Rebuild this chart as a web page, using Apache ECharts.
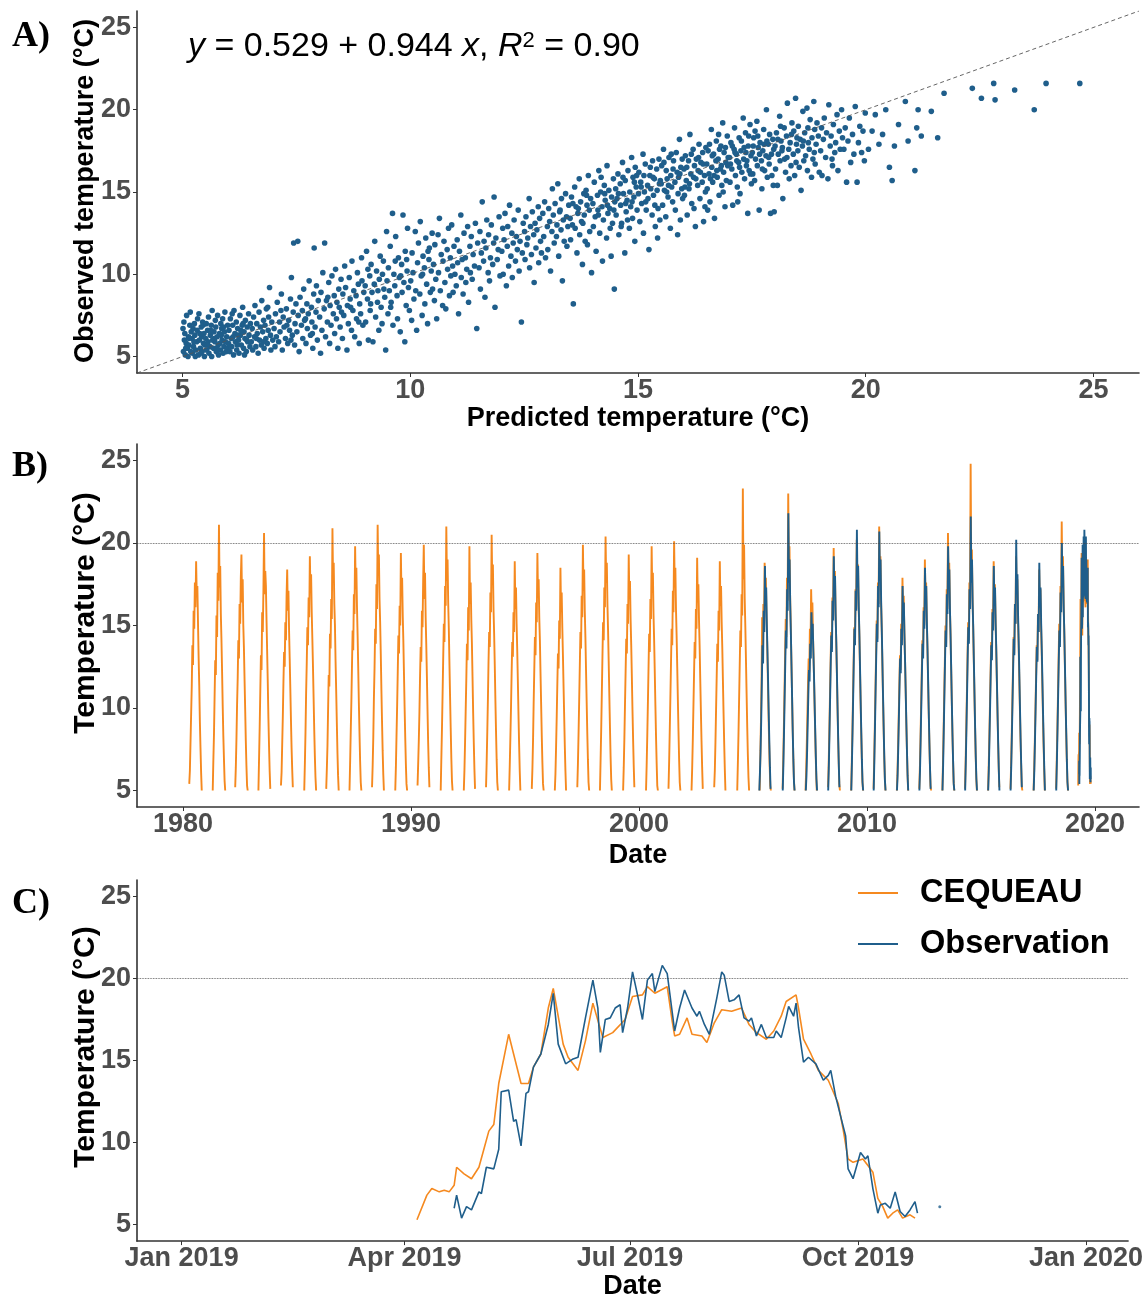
<!DOCTYPE html>
<html><head><meta charset="utf-8">
<script src="https://cdn.jsdelivr.net/npm/echarts@6/dist/echarts.min.js"></script>
<style>html,body{margin:0;padding:0;background:#fff}#chart{width:1146px;height:1301px}</style>
</head><body><div id="chart"></div>
<script>
// ---------- DATA ----------
const tempTicks = [5, 10, 15, 20, 25];
const yearTicks = [1980, 1990, 2000, 2010, 2020];
const monthTickDates = ['2019-01-01', '2019-04-01', '2019-07-01', '2019-10-01', '2020-01-01'];
const monthTickLabels = ['Jan 2019', 'Apr 2019', 'Jul 2019', 'Oct 2019', 'Jan 2020'];
const seriesNames = ['CEQUEAU', 'Observation'];
const equationText = '{i|y} = 0.529 + 0.944 {i|x}, {i|R}{s|2} = 0.90';
const threshold = 20;
const identityLine = [[4, 4], [26, 26]];

// Panel A: [predicted, observed]
const scatterA = [
[5.02,5.3],[5.04,6.0],[5.01,6.7],[5.06,5.1],[5.03,7.1],[5.08,5.8],[5.05,6.4],[5.11,5.5],[5.09,7.5],[5.13,6.2],[5.12,5.0],[5.16,6.9],[5.14,5.7],[5.19,6.5],[5.17,7.7],[5.22,5.2],[5.21,6.1],[5.24,5.6],[5.26,7.0],[5.23,6.7],[5.29,5.4],[5.27,6.3],[5.31,5.9],[5.33,7.3],[5.35,5.1],[5.32,6.6],[5.37,6.0],[5.39,5.5],[5.36,7.6],[5.41,6.8],[5.43,5.3],[5.42,6.2],[5.46,5.8],[5.44,7.1],[5.48,5.0],[5.47,6.4],[5.49,5.7],[5.45,6.9],[5.28,5.0],[5.18,5.3],[5.07,5.5],[5.38,6.4],[5.14,6.1],[5.25,5.9],[5.40,5.2],
[5.51,6.1],[5.53,5.4],[5.52,7.0],[5.56,5.9],[5.55,6.6],[5.58,5.2],[5.57,7.4],[5.61,6.3],[5.60,5.6],[5.63,6.9],[5.64,5.0],[5.66,6.0],[5.65,7.8],[5.68,5.5],[5.69,6.5],[5.71,5.9],[5.72,7.2],[5.74,5.3],[5.73,6.8],[5.76,6.2],[5.78,5.7],[5.77,7.5],[5.79,5.1],[5.81,6.4],[5.82,5.8],[5.84,7.0],[5.83,5.4],[5.86,6.7],[5.87,6.0],[5.89,5.2],[5.88,7.3],[5.91,5.6],[5.92,6.5],[5.94,5.9],[5.93,7.7],[5.96,5.3],[5.97,6.2],[5.99,6.9],[5.98,5.5],[5.62,6.6],[5.70,6.1],[5.75,5.5],[5.85,6.3],[5.90,6.8],[5.54,5.7],
[6.01,5.8],[6.02,6.6],[6.04,5.3],[6.05,7.3],[6.07,6.1],[6.08,5.6],[6.10,6.9],[6.12,5.1],[6.13,7.8],[6.15,6.4],[6.16,5.9],[6.18,7.1],[6.19,5.4],[6.21,6.7],[6.23,6.0],[6.24,5.2],[6.26,7.5],[6.27,6.3],[6.29,5.7],[6.31,6.9],[6.32,8.0],[6.34,5.5],[6.35,6.5],[6.37,6.1],[6.38,7.2],[6.40,5.3],[6.42,6.8],[6.43,5.9],[6.45,7.6],[6.46,6.3],[6.48,5.6],[6.49,7.0],[6.11,6.2],[6.20,5.7],[6.28,6.6],[6.36,5.1],[6.41,6.0],[6.09,7.6],[6.22,6.3],[6.33,7.0],
[6.51,5.9],[6.53,6.7],[6.54,5.4],[6.56,7.4],[6.58,6.2],[6.59,8.1],[6.61,5.6],[6.63,7.0],[6.64,6.4],[6.66,5.2],[6.68,7.7],[6.69,6.0],[6.71,6.8],[6.73,5.7],[6.74,8.4],[6.76,6.5],[6.78,7.2],[6.79,5.5],[6.81,6.9],[6.83,6.1],[6.84,7.9],[6.86,5.8],[6.88,6.6],[6.89,7.4],[6.91,9.2],[6.93,6.3],[6.94,5.4],[6.96,7.1],[6.98,6.0],[6.62,6.1],[6.77,5.9],[6.87,8.0],
[7.01,6.7],[7.03,5.6],[7.04,7.6],[7.06,6.2],[7.08,8.3],[7.11,5.9],[7.13,7.1],[7.14,6.5],[7.17,8.8],[7.19,5.4],[7.21,7.4],[7.23,6.8],[7.26,6.1],[7.28,7.9],[7.31,5.8],[7.33,7.2],[7.35,6.6],[7.37,8.5],[7.39,9.8],[7.41,6.3],[7.43,7.7],[7.44,11.9],[7.46,5.7],[7.47,7.0],[7.49,8.2],[7.16,7.8],[7.29,6.9],[7.38,6.0],
[7.51,6.5],[7.53,12.0],[7.54,7.5],[7.56,5.3],[7.58,8.6],[7.61,6.9],[7.63,7.8],[7.64,6.1],[7.66,9.1],[7.68,7.2],[7.71,5.8],[7.73,8.2],[7.74,6.7],[7.76,7.6],[7.78,9.6],[7.81,6.3],[7.83,8.0],[7.84,7.1],[7.86,5.5],[7.88,8.8],[7.89,11.6],[7.91,6.8],[7.93,7.7],[7.94,9.3],[7.96,6.0],[7.98,8.4],[7.70,7.3],[7.85,6.4],
[8.01,7.4],[8.03,5.2],[8.04,8.9],[8.06,6.6],[8.08,10.1],[8.11,7.9],[8.12,11.9],[8.14,6.2],[8.16,8.4],[8.18,7.1],[8.21,9.5],[8.23,5.8],[8.24,8.1],[8.26,6.9],[8.28,9.9],[8.31,7.6],[8.33,8.7],[8.34,6.4],[8.36,10.3],[8.38,7.3],[8.41,5.5],[8.43,9.1],[8.44,8.0],[8.46,6.8],[8.48,9.7],[8.49,7.7],[8.19,8.6],[8.39,8.3],
[8.51,6.1],[8.52,8.8],[8.54,7.5],[8.56,10.5],[8.58,9.2],[8.61,5.4],[8.62,8.1],[8.64,7.0],[8.66,9.8],[8.68,8.5],[8.71,6.6],[8.72,10.8],[8.74,7.8],[8.76,9.0],[8.78,6.2],[8.81,8.7],[8.82,7.3],[8.84,10.1],[8.86,9.4],[8.88,5.8],[8.89,8.2],[8.91,7.6],[8.93,11.0],[8.94,9.6],[8.96,6.9],[8.98,8.9],[8.69,8.0],[8.87,7.1],
[9.01,9.3],[9.02,7.1],[9.04,11.4],[9.06,8.5],[9.08,6.0],[9.11,9.9],[9.12,7.8],[9.14,10.6],[9.16,8.9],[9.18,5.9],[9.21,9.4],[9.22,12.0],[9.24,7.4],[9.26,10.2],[9.28,8.3],[9.31,6.6],[9.32,9.7],[9.34,11.1],[9.36,8.0],[9.38,7.0],[9.41,10.8],[9.42,9.1],[9.44,8.6],[9.46,5.4],[9.48,12.6],[9.49,9.6],[9.13,8.2],[9.29,9.0],[9.39,10.0],[9.07,10.3],
[9.51,7.6],[9.52,10.4],[9.54,9.0],[9.56,11.7],[9.58,8.3],[9.61,13.7],[9.62,6.9],[9.64,10.0],[9.66,9.3],[9.68,12.3],[9.71,8.7],[9.72,7.3],[9.74,11.0],[9.76,9.8],[9.78,6.5],[9.81,10.6],[9.82,8.9],[9.84,13.6],[9.86,9.5],[9.88,5.9],[9.89,11.4],[9.91,8.1],[9.93,10.2],[9.94,12.8],[9.96,9.2],[9.98,7.8],[9.67,10.8],[9.79,9.9],[9.57,8.0],[9.92,10.9],
[10.01,9.6],[10.03,7.2],[10.04,11.3],[10.06,10.1],[10.08,8.5],[10.11,12.6],[10.12,9.0],[10.14,6.6],[10.16,10.7],[10.18,11.9],[10.21,8.8],[10.22,13.2],[10.24,9.9],[10.26,7.5],[10.28,11.1],[10.31,10.4],[10.32,8.2],[10.34,12.2],[10.36,9.4],[10.38,7.0],[10.41,10.9],[10.42,11.6],[10.44,8.9],[10.46,10.2],[10.48,12.5],[10.49,9.1],[10.27,10.0],[10.39,11.4],
[10.51,10.6],[10.53,8.4],[10.54,11.8],[10.56,9.7],[10.58,7.3],[10.61,12.4],[10.62,10.1],[10.64,13.4],[10.66,9.0],[10.68,11.2],[10.71,8.1],[10.72,10.8],[10.74,12.0],[10.76,9.5],[10.78,7.9],[10.81,11.5],[10.82,10.3],[10.84,12.8],[10.86,8.7],[10.88,11.0],[10.89,9.9],[10.91,13.0],[10.93,10.5],[10.94,8.9],[10.96,11.7],[10.98,10.0],
[11.01,9.3],[11.03,12.1],[11.04,10.7],[11.06,7.6],[11.08,11.4],[11.11,13.6],[11.12,9.8],[11.14,10.9],[11.16,8.8],[11.18,12.5],[11.21,11.0],[11.22,9.5],[11.24,10.3],[11.26,12.9],[11.28,8.3],[11.31,11.7],[11.32,10.1],[11.34,12.3],[11.36,9.7],[11.38,11.2],[11.41,10.5],[11.43,13.1],[11.46,6.7],[11.48,11.9],
[11.51,10.4],[11.53,12.6],[11.54,9.1],[11.56,11.3],[11.58,14.4],[11.61,10.8],[11.62,12.0],[11.64,8.6],[11.66,11.6],[11.68,13.3],[11.71,10.1],[11.72,12.4],[11.74,9.6],[11.76,11.0],[11.78,13.0],[11.81,10.6],[11.83,11.9],[11.84,14.7],[11.86,8.0],[11.88,12.2],[11.91,10.9],[11.93,11.5],[11.95,13.5],[11.97,9.9],
[12.01,11.4],[12.03,12.8],[12.04,10.0],[12.06,12.1],[12.08,13.7],[12.11,9.3],[12.13,11.7],[12.14,12.9],[12.16,10.5],[12.18,14.2],[12.21,11.1],[12.23,12.5],[12.24,9.8],[12.26,11.9],[12.28,13.3],[12.31,10.8],[12.33,12.3],[12.35,11.5],[12.37,13.9],[12.39,10.2],[12.41,12.0],[12.44,7.1],[12.46,11.3],[12.48,13.1],
[12.51,12.6],[12.52,10.9],[12.54,13.5],[12.56,11.8],[12.58,12.2],[12.61,14.6],[12.62,10.4],[12.64,12.9],[12.66,11.2],[12.68,13.8],[12.71,12.4],[12.72,9.5],[12.74,13.1],[12.76,11.6],[12.78,12.7],[12.81,14.1],[12.82,10.7],[12.84,13.4],[12.86,12.0],[12.88,11.3],[12.91,13.7],[12.93,12.3],[12.95,14.4],[12.97,11.0],
[13.01,12.9],[13.02,11.5],[13.04,14.0],[13.06,13.2],[13.08,10.2],[13.11,12.6],[13.12,15.2],[13.14,13.6],[13.16,11.9],[13.18,14.3],[13.21,12.3],[13.22,13.0],[13.24,15.5],[13.26,11.1],[13.28,13.8],[13.31,12.7],[13.32,14.6],[13.34,9.6],[13.36,13.3],[13.38,12.0],[13.41,14.9],[13.43,13.5],[13.44,11.7],[13.46,12.9],[13.48,14.2],[13.29,13.9],
[13.51,13.4],[13.52,12.1],[13.54,14.7],[13.56,13.0],[13.58,8.2],[13.61,15.3],[13.62,12.8],[13.64,14.1],[13.66,11.3],[13.68,13.7],[13.71,15.8],[13.72,12.4],[13.74,14.4],[13.76,13.2],[13.78,10.6],[13.81,14.9],[13.82,13.6],[13.84,12.0],[13.86,15.1],[13.88,14.2],[13.89,11.8],[13.91,16.0],[13.93,13.9],[13.94,12.6],[13.96,14.6],[13.98,10.1],[13.69,14.0],[13.79,13.1],[13.87,14.8],[13.57,14.3],
[14.01,14.3],[14.02,12.9],[14.04,15.6],[14.06,13.5],[14.08,11.4],[14.11,14.8],[14.12,13.9],[14.14,16.3],[14.16,12.5],[14.18,15.0],[14.21,14.1],[14.22,10.8],[14.24,13.3],[14.26,15.4],[14.28,14.5],[14.31,12.2],[14.32,16.6],[14.34,13.7],[14.36,15.1],[14.38,14.0],[14.41,11.1],[14.42,14.7],[14.44,13.1],[14.46,15.8],[14.48,9.1],[14.49,14.4],[14.13,13.6],[14.27,14.9],[14.39,12.8],[14.47,13.9],[14.19,15.9],[14.33,14.2],
[14.51,15.2],[14.52,13.6],[14.54,14.6],[14.56,16.1],[14.58,12.4],[14.61,15.5],[14.62,14.2],[14.64,13.1],[14.66,16.8],[14.68,14.9],[14.71,11.3],[14.72,15.7],[14.74,13.8],[14.76,14.5],[14.78,16.3],[14.81,12.8],[14.82,15.0],[14.84,14.1],[14.86,17.1],[14.88,13.4],[14.89,15.9],[14.91,14.7],[14.93,12.0],[14.94,16.5],[14.96,15.3],[14.98,13.9],[14.57,14.9],[14.67,15.9],[14.77,13.3],[14.87,14.4],[14.97,16.0],[14.63,12.9],[14.73,14.3],[14.92,15.6],
[15.01,14.9],[15.02,16.2],[15.04,13.2],[15.06,15.6],[15.08,14.3],[15.11,17.3],[15.12,12.5],[15.14,15.0],[15.16,16.7],[15.18,13.9],[15.21,15.4],[15.22,14.6],[15.24,11.5],[15.26,16.0],[15.28,15.2],[15.31,13.6],[15.32,16.9],[15.34,14.8],[15.36,15.8],[15.38,12.9],[15.41,16.4],[15.42,15.1],[15.44,14.0],[15.46,17.0],[15.48,13.3],[15.49,15.7],[15.07,15.3],[15.17,14.4],[15.27,16.5],[15.37,14.2],[15.47,15.5],[15.13,16.0],[15.33,15.9],[15.43,12.2],
[15.51,15.5],[15.52,16.6],[15.54,14.2],[15.56,17.6],[15.58,15.1],[15.61,13.5],[15.62,16.3],[15.64,15.8],[15.66,14.7],[15.68,17.1],[15.71,12.8],[15.72,16.0],[15.74,15.3],[15.76,14.4],[15.78,16.9],[15.81,15.6],[15.82,13.9],[15.84,17.4],[15.86,16.2],[15.88,14.9],[15.89,15.9],[15.91,18.2],[15.93,13.3],[15.94,16.5],[15.96,15.2],[15.98,14.6],[15.57,16.8],[15.67,15.4],[15.77,16.4],[15.87,12.4],[15.97,17.0],[15.63,15.0],[15.73,17.3],[15.92,16.1],
[16.01,16.4],[16.02,14.8],[16.04,17.2],[16.06,15.7],[16.08,13.6],[16.11,16.9],[16.12,15.2],[16.14,18.5],[16.16,16.1],[16.18,14.3],[16.21,17.6],[16.22,15.9],[16.24,16.6],[16.26,12.9],[16.28,17.0],[16.31,15.4],[16.32,16.3],[16.34,17.9],[16.36,14.6],[16.38,16.8],[16.41,15.6],[16.42,17.4],[16.44,13.2],[16.46,16.0],[16.48,15.0],[16.49,17.7],[16.07,16.5],[16.17,17.3],[16.27,15.8],[16.37,16.2],[16.47,14.1],[16.13,15.5],[16.23,14.0],[16.33,17.1],[16.43,16.7],[16.03,15.3],
[16.51,16.7],[16.52,15.2],[16.54,17.5],[16.56,16.1],[16.58,14.4],[16.61,18.8],[16.62,16.5],[16.64,15.6],[16.66,17.3],[16.68,13.4],[16.71,16.9],[16.72,18.1],[16.74,15.9],[16.76,17.0],[16.78,14.8],[16.81,16.4],[16.82,17.8],[16.84,15.4],[16.86,19.2],[16.88,16.2],[16.89,17.4],[16.91,14.1],[16.93,16.8],[16.94,15.7],[16.96,18.4],[16.98,17.1],[16.57,17.9],[16.67,16.0],[16.77,18.5],[16.87,15.0],[16.97,16.6],[16.53,13.9],[16.63,17.2],[16.73,16.3],[16.83,16.6],[16.92,17.7],[16.59,15.8],[16.79,17.6],
[17.01,17.1],[17.02,15.6],[17.04,18.0],[17.06,16.4],[17.08,14.2],[17.11,17.6],[17.12,18.9],[17.14,16.0],[17.16,17.3],[17.18,15.3],[17.21,16.8],[17.22,18.3],[17.24,14.9],[17.26,17.5],[17.28,16.2],[17.31,19.5],[17.32,17.0],[17.34,15.8],[17.36,18.6],[17.38,16.6],[17.41,13.7],[17.42,17.8],[17.44,16.3],[17.46,19.1],[17.48,17.2],[17.49,15.5],[17.07,17.8],[17.17,16.9],[17.27,18.1],[17.37,17.4],[17.47,16.1],[17.03,16.7],[17.13,17.4],[17.23,16.5],[17.33,17.7],[17.43,18.4],[17.19,14.4],[17.39,16.9],
[17.51,17.4],[17.52,16.1],[17.54,18.3],[17.56,15.7],[17.58,17.0],[17.61,19.3],[17.62,16.6],[17.64,17.7],[17.66,13.9],[17.68,18.0],[17.71,16.9],[17.72,15.2],[17.74,17.5],[17.76,18.8],[17.78,16.3],[17.81,17.2],[17.82,20.0],[17.84,15.9],[17.86,17.9],[17.88,16.7],[17.89,18.5],[17.91,13.7],[17.93,17.3],[17.94,16.0],[17.96,18.2],[17.98,17.6],[17.57,18.7],[17.67,17.3],[17.77,17.9],[17.87,17.1],[17.97,15.4],[17.53,17.8],[17.63,18.4],[17.73,16.4],[17.83,18.1],[17.99,13.8],
[18.01,17.8],[18.02,16.4],[18.04,18.6],[18.06,15.4],[18.08,17.3],[18.11,19.6],[18.12,16.9],[18.14,18.1],[18.16,17.5],[18.18,14.6],[18.21,18.9],[18.22,17.0],[18.24,16.2],[18.26,18.4],[18.28,20.4],[18.31,17.6],[18.32,15.8],[18.34,18.0],[18.36,16.6],[18.38,19.2],[18.41,17.3],[18.42,18.7],[18.44,16.0],[18.46,20.7],[18.48,17.9],[18.49,18.3],[18.07,18.2],[18.17,17.7],[18.27,17.1],[18.37,18.5],[18.47,16.8],[18.13,19.0],
[18.51,17.5],[18.52,19.0],[18.54,16.5],[18.56,18.2],[18.58,15.1],[18.61,17.8],[18.62,19.9],[18.64,16.9],[18.66,18.6],[18.68,17.2],[18.71,20.1],[18.72,16.3],[18.74,18.0],[18.76,17.6],[18.78,19.4],[18.81,15.9],[18.82,18.3],[18.84,17.0],[18.86,20.5],[18.88,18.8],[18.89,16.7],[18.91,17.9],[18.93,19.2],[18.96,18.4],[18.98,16.2],[18.63,18.1],[18.73,18.9],[18.87,17.4],
[19.01,17.5],[19.03,18.9],[19.04,16.0],[19.07,18.2],[19.09,19.5],[19.12,17.1],[19.14,18.6],[19.17,15.8],[19.19,20.3],[19.22,17.8],[19.24,18.4],[19.27,16.6],[19.29,19.1],[19.32,17.4],[19.34,18.0],[19.37,19.7],[19.39,16.3],[19.42,18.7],[19.44,17.6],[19.47,20.0],[19.49,18.3],[19.26,17.0],
[19.52,17.6],[19.55,18.9],[19.58,15.6],[19.61,18.1],[19.64,19.5],[19.67,16.8],[19.71,18.5],[19.74,17.3],[19.77,20.2],[19.81,15.6],[19.84,18.0],[19.87,19.0],[19.91,17.4],[19.94,18.7],[19.97,16.9],[19.99,19.8],
[20.06,17.6],[20.14,18.7],[20.21,19.7],[20.29,17.9],[20.37,18.5],[20.44,20.0],[20.52,16.5],[20.58,15.7],[20.63,17.8],[20.72,19.1],[20.87,20.5],[20.93,18.1],
[21.08,16.3],[21.15,20.0],[21.22,18.4],[21.44,19.9],[21.58,18.3],[21.72,21.0],[21.12,18.9],
[22.34,21.3],[22.54,20.7],[22.81,21.6],[22.84,20.6],[23.27,21.2],[23.70,20.0],[23.96,21.6],[24.70,21.6]
];

// Panel B: seasonal series, one value every stepDaysB days from a start day-of-year
const stepDaysB = 10;
const ceqYearsB = [1980,1981,1982,1983,1984,1985,1986,1987,1988,1989,1990,1991,1992,1993,1994,1995,1996,1997,1998,1999,2000,2001,2002,2003,2004,2005,2006,2007,2008,2009,2010,2011,2012,2013,2014,2015,2016,2017,2018];
const ceqStartB = [100,110,105,112,108,115,102,110,106,112,104,110,115,105,110,108,112,106,104,110,112,106,110,108,112,105,108,110,106,110,104,112,106,110,108,112,106,110,106];
const ceqValsB = [
[5.4,6.2,7.9,9.6,11.3,13.8,12.6,15.9,14.8,17.6,16.1,18.9,16.8,17.4,15.2,13.1,11.4,9.2,7.6,6.1,5.0],
[5.0,6.8,8.4,10.7,12.9,12.0,15.6,14.3,18.2,16.5,21.1,17.3,18.6,15.7,14.1,12.2,10.1,8.3,6.9,5.6,5.0],
[5.2,6.4,8.1,10.2,11.8,14.1,13.0,16.3,15.1,17.9,19.3,16.4,17.8,15.0,13.6,11.7,9.9,8.0,6.5,5.3,5.0],
[5.0,6.9,8.8,11.0,13.2,12.3,15.8,14.6,17.1,20.6,16.9,18.3,17.4,15.3,13.4,11.5,9.4,7.7,6.2,5.1],
[5.3,6.1,7.8,9.5,11.6,13.4,12.5,15.2,14.1,16.8,18.4,15.9,17.1,14.7,13.0,11.2,9.3,7.6,6.3,5.2],
[5.0,6.6,8.5,10.9,12.7,14.9,13.8,16.7,15.5,19.2,17.0,18.1,15.8,14.2,12.5,10.6,8.7,7.1,5.8,5.0],
[5.1,6.3,7.7,9.9,12.0,11.3,14.5,13.6,16.6,15.4,20.9,17.6,18.8,16.3,15.0,12.8,11.0,9.1,7.3,5.9,5.0],
[5.0,6.7,8.6,10.4,12.6,14.7,13.5,16.9,15.7,19.8,17.2,18.5,16.1,14.4,12.4,10.3,8.5,6.8,5.5,5.0],
[5.2,6.5,8.2,10.6,12.4,14.8,13.9,17.5,16.0,21.1,18.0,19.3,16.6,15.2,13.3,11.1,9.2,7.4,6.0,5.0],
[5.0,6.4,8.3,10.1,12.2,14.4,13.3,16.2,15.0,19.4,16.8,17.9,15.6,14.0,12.0,10.0,8.2,6.6,5.4,5.0],
[5.3,6.6,8.0,9.7,11.9,13.7,12.8,15.9,14.9,17.7,19.9,16.6,18.2,15.5,13.8,11.9,9.8,7.9,6.4,5.2],
[5.0,6.9,8.7,10.8,13.0,15.1,14.0,17.4,16.2,21.0,17.7,19.0,16.4,14.8,12.7,10.7,8.8,7.0,5.6,5.0],
[5.0,6.2,7.9,9.8,11.7,13.9,12.9,16.1,14.7,19.8,16.3,17.6,15.4,13.9,11.8,9.7,7.9,6.3,5.1],
[5.2,6.7,8.5,10.5,12.8,14.6,13.7,17.0,15.8,20.5,17.5,18.7,16.0,14.5,12.6,10.5,8.6,6.9,5.5,5.0],
[5.0,6.5,8.2,10.0,12.1,14.0,13.1,15.8,14.6,18.9,16.0,17.3,15.1,13.5,11.6,9.6,7.8,6.2,5.0],
[5.1,6.3,8.0,10.3,12.3,14.3,13.2,16.4,15.2,19.4,16.7,17.8,15.5,14.1,12.1,10.2,8.3,6.7,5.4,5.0],
[5.0,6.0,7.6,9.4,11.4,13.3,12.4,15.3,14.2,18.5,15.8,17.0,14.9,13.2,11.3,9.5,7.7,6.2,5.0],
[5.2,6.6,8.4,10.4,12.5,14.6,13.6,16.8,15.5,19.9,17.1,18.4,15.9,14.3,12.3,10.4,8.5,6.9,5.5,5.0],
[5.0,6.8,8.7,10.9,13.1,15.2,14.1,17.3,16.1,20.4,17.6,18.8,16.3,14.7,12.8,10.8,8.9,7.1,5.7,5.0],
[5.0,6.4,8.1,10.2,12.2,14.2,13.3,16.3,15.1,19.3,16.6,17.7,15.4,13.8,11.9,9.9,8.1,6.5,5.2],
[5.0,6.5,8.3,10.3,12.4,14.5,13.4,16.6,15.4,19.8,17.0,18.2,15.7,14.1,12.2,10.2,8.3,6.7,5.3,5.0],
[5.1,6.7,8.6,10.6,12.7,14.8,13.8,17.1,15.8,20.1,17.3,18.5,16.0,14.4,12.5,10.5,8.6,6.9,5.5,5.0],
[5.0,6.3,8.0,10.0,12.0,14.0,13.0,16.0,14.8,19.1,16.4,17.5,15.3,13.7,11.7,9.8,8.0,6.4,5.1],
[5.2,6.2,7.9,9.9,11.9,13.9,12.8,15.9,14.7,18.9,16.2,17.4,15.2,13.6,11.6,9.7,7.9,6.3,5.0],
[5.0,6.6,8.4,10.5,12.6,14.7,13.7,16.9,15.6,23.3,17.8,19.9,16.6,14.9,12.9,10.9,8.9,7.2,5.8,5.0],
[5.0,6.9,9.0,11.4,15.5,13.6,16.3,15.0,18.8,16.6,17.9,15.6,14.0,12.1,10.1,8.2,6.6,5.3,5.0],
[5.1,6.8,8.8,11.0,13.3,15.4,14.3,17.9,16.5,23.0,18.4,19.8,16.8,15.1,13.0,11.0,9.0,7.2,5.8,5.0],
[5.0,6.2,7.8,9.6,11.5,13.0,12.2,14.8,13.9,17.2,15.3,16.4,14.4,12.9,11.1,9.3,7.6,6.1,5.0],
[5.2,6.6,8.5,10.6,12.7,14.6,13.6,16.7,15.5,19.7,17.0,18.3,15.8,14.2,12.3,10.3,8.4,6.8,5.4,5.0],
[5.0,6.7,8.6,10.7,12.9,14.9,13.9,17.2,16.0,20.2,17.4,18.7,16.2,14.6,12.6,10.6,8.7,7.0,5.6,5.0],
[5.1,6.9,8.9,11.1,13.2,15.3,14.2,17.6,16.3,21.0,17.9,19.2,16.5,14.9,12.9,10.9,9.0,7.2,5.8,5.0],
[5.0,6.1,7.7,9.5,11.4,13.2,12.3,15.1,14.1,17.9,15.6,16.8,14.7,13.1,11.3,9.4,7.7,6.2,5.0],
[5.1,6.4,8.2,10.2,12.2,14.1,13.2,16.1,15.0,19.0,16.5,17.6,15.4,13.8,11.9,10.0,8.2,6.6,5.3,5.0],
[5.0,6.7,8.7,10.8,12.9,15.0,13.9,17.2,16.0,20.6,17.5,18.8,16.2,14.6,12.6,10.6,8.7,7.0,5.6,5.0],
[5.1,6.8,8.8,10.9,13.1,15.2,14.1,17.6,16.4,24.8,18.3,19.6,16.7,15.0,13.0,11.0,9.0,7.2,5.8,5.0],
[5.0,6.4,8.2,10.1,12.1,14.0,13.1,16.0,14.9,18.9,16.4,17.5,15.3,13.7,11.8,9.9,8.1,6.5,5.2],
[5.1,6.5,8.3,10.3,12.3,14.3,13.3,16.3,15.1,19.2,16.7,17.8,15.5,13.9,12.0,10.1,8.3,6.7,5.3,5.0],
[5.0,6.3,8.0,9.9,11.9,13.8,12.9,15.7,14.6,18.4,16.0,17.2,15.0,13.4,11.5,9.6,7.9,6.3,5.0],
[5.1,6.8,8.7,10.8,13.0,15.1,14.0,17.4,16.2,21.3,17.8,19.2,16.4,14.8,12.7,10.7,8.8,7.1,5.7,5.0]
];
const obsYearsB = [2005,2006,2007,2008,2009,2010,2011,2012,2013,2014,2015,2016,2017,2018];
const obsStartB = [100,110,115,108,112,106,114,108,112,110,114,108,112,108];
const obsValsB = [
[5.0,6.1,7.4,9.2,11.5,13.8,12.7,15.9,14.6,18.6,16.2,17.3,15.1,13.5,11.7,9.8,8.0,6.4,5.1],
[5.0,6.5,8.4,10.5,12.6,14.7,13.6,17.2,15.9,21.8,17.6,19.0,16.3,14.6,12.6,10.6,8.6,6.9,5.5,5.0],
[5.0,5.9,7.3,9.0,10.8,12.3,11.6,13.9,13.0,15.8,14.2,15.1,13.5,12.1,10.4,8.7,7.1,5.7,5.0],
[5.0,6.4,8.3,10.4,12.5,14.4,13.4,16.5,15.3,19.2,16.8,18.0,15.6,14.0,12.1,10.1,8.2,6.6,5.2],
[5.0,6.6,8.5,10.6,12.8,14.8,13.8,17.1,15.9,20.8,17.3,18.6,16.1,14.5,12.5,10.5,8.6,6.9,5.5,5.0],
[5.0,6.7,8.7,10.9,13.0,15.1,14.0,17.4,16.1,20.7,17.7,19.0,16.3,14.7,12.7,10.7,8.8,7.0,5.6,5.0],
[5.0,5.9,7.5,9.3,11.2,13.0,12.1,14.8,13.8,17.4,15.3,16.4,14.4,12.8,11.0,9.1,7.4,5.9,5.0],
[5.0,6.2,8.0,10.0,12.0,13.9,13.0,15.9,14.8,18.5,16.3,17.4,15.2,13.6,11.7,9.8,8.0,6.4,5.1],
[5.0,6.5,8.5,10.6,12.7,14.7,13.7,16.9,15.7,19.8,17.2,18.4,15.9,14.3,12.3,10.3,8.4,6.8,5.4,5.0],
[5.0,6.6,8.6,10.7,12.9,14.9,13.9,17.2,16.0,21.6,17.6,19.0,16.4,14.8,12.8,10.8,8.8,7.1,5.7,5.0],
[5.0,6.2,8.0,9.9,11.9,13.8,12.9,15.8,14.7,18.6,16.2,17.3,15.1,13.5,11.6,9.7,7.9,6.3,5.0],
[5.0,6.4,8.2,10.2,12.2,14.2,13.2,16.3,15.1,20.2,16.9,18.1,15.6,14.0,12.1,10.1,8.2,6.6,5.2],
[5.0,6.2,7.9,9.8,11.8,13.7,12.8,15.7,14.6,18.8,16.1,17.3,15.1,13.5,11.6,9.7,7.9,6.3,5.0],
[5.0,6.6,8.5,10.6,12.7,14.7,13.7,17.0,15.8,20.0,17.3,18.6,16.1,14.5,12.5,10.5,8.6,6.9,5.5,5.0]
];

// Panel C (2019): [day of year, temperature]
const yearC = 2019;
const ceqC = [[95,5.3],[99,6.8],[101,7.2],[104,7.0],[106,7.1],[108,7.0],[110,7.4],[111,8.5],[114,8.1],[117,7.8],[120,8.5],[122,9.6],[124,10.7],[126,11.1],[128,13.6],[132,16.6],[134,15.4],[137,13.6],[140,13.6],[142,14.6],[145,15.4],[148,18.2],[150,19.4],[154,16.0],[156,15.2],[160,14.4],[163,16.2],[166,18.5],[170,16.4],[174,16.7],[179,17.5],[182,18.9],[186,19.0],[188,19.5],[191,19.1],[196,19.5],[198,17.4],[199,16.5],[201,16.6],[204,17.6],[206,16.6],[210,16.5],[212,16.1],[215,17.3],[218,18.1],[222,18.0],[226,18.2],[229,17.2],[232,16.7],[236,16.3],[239,16.8],[242,17.7],[244,18.6],[248,19.0],[249,18.2],[251,16.3],[254,15.4],[257,14.4],[261,13.8],[265,12.4],[267,10.8],[269,9.0],[271,8.8],[275,9.0],[277,8.6],[279,8.2],[281,6.6],[283,6.1],[285,5.4],[287,5.7],[289,5.9],[291,5.4],[294,5.6],[296,5.4]];
const obsC = [[110,6.0],[111,6.8],[113,5.4],[115,6.1],[117,5.9],[120,7.0],[121,6.9],[123,8.5],[126,8.4],[128,9.6],[129,13.1],[132,13.2],[134,11.3],[135,11.4],[137,9.8],[139,13.0],[140,13.1],[142,14.6],[145,15.4],[148,17.2],[150,19.1],[152,16.0],[155,14.8],[158,15.1],[160,15.2],[163,17.6],[166,19.9],[168,18.2],[169,15.5],[171,17.5],[173,17.6],[175,18.2],[177,18.4],[178,16.7],[180,18.2],[182,20.4],[184,19.0],[186,17.5],[188,19.9],[190,20.3],[191,19.2],[194,20.8],[196,20.3],[199,16.8],[201,18.2],[203,19.3],[206,18.2],[208,17.7],[209,18.0],[211,17.2],[213,16.6],[216,18.8],[218,20.4],[219,20.2],[221,18.6],[223,18.7],[225,19.0],[227,17.6],[229,17.4],[230,17.6],[232,16.5],[234,17.2],[236,16.4],[239,16.4],[240,16.8],[242,16.4],[244,17.6],[245,18.3],[247,17.7],[248,18.5],[249,17.0],[251,14.9],[253,15.2],[256,14.8],[259,13.8],[261,14.1],[262,14.4],[264,12.8],[266,11.6],[268,10.4],[269,8.4],[271,7.8],[274,9.4],[276,9.0],[277,9.2],[279,7.2],[281,5.7],[282,6.2],[284,6.3],[286,6.0],[288,7.0],[290,5.8],[292,5.5],[294,5.9],[296,6.4],[297,5.7]];
const obsIsolatedC = [[306,6.1]];

// ---------- BUILD ----------
const DAY = 86400000;
const toTime = (year, doy) => Date.UTC(year, 0, 1) + doy * DAY;
function buildYearly(years, starts, vals) {
  const out = [];
  years.forEach((y, i) => {
    vals[i].forEach((v, j) => out.push([toTime(y, starts[i] + j * stepDaysB), v]));
    out.push([toTime(y, 360), null]);
  });
  return out;
}
const dayPairs = (arr, year) => arr.map(p => [toTime(year, p[0]), p[1]]);
const ceqBData = buildYearly(ceqYearsB, ceqStartB, ceqValsB).concat(dayPairs(ceqC, yearC));
const obsBData = buildYearly(obsYearsB, obsStartB, obsValsB).concat(dayPairs(obsC, yearC));
const ceqCData = dayPairs(ceqC, yearC);
const obsCData = dayPairs(obsC, yearC);
const obsIsoCData = dayPairs(obsIsolatedC, yearC);

const yearTickTimes = yearTicks.map(y => Date.UTC(y, 0, 1));
const monthTickTimes = monthTickDates.map(d => Date.parse(d + 'T00:00:00Z'));
const nearestIdx = (arr, v) => { let b = 0; arr.forEach((t, i) => { if (Math.abs(t - v) < Math.abs(arr[b] - v)) b = i; }); return b; };

const ORANGE = '#F5891F', BLUE = '#1F5E8B';
const FONT = "'Liberation Sans', Arial, Helvetica, sans-serif";
const tickLabel = {fontSize: 27, fontWeight: 'bold', color: '#4d4d4d', fontFamily: FONT};
const nameStyle = {fontSize: 27, fontWeight: 'bold', color: '#000', fontFamily: FONT};
const axisLine = {show: true, onZero: false, lineStyle: {color: '#333', width: 1.6}};
const tick = vals => ({show: true, length: 4, customValues: vals, lineStyle: {color: '#333', width: 1}});

function yAx(grid) {
  return {gridIndex: grid, type: 'value', min: 4, max: 26, axisLine, axisTick: tick(tempTicks),
    axisLabel: Object.assign({customValues: tempTicks, margin: 6}, tickLabel), splitLine: {show: false}};
}
const thresholdMark = {silent: true, symbol: 'none', label: {show: false},
  lineStyle: {type: 'dotted', color: '#444', width: 0.8}, data: [{yAxis: threshold}]};
const vTitle = (text, cx, cy, size) => ({type: 'text', x: cx, y: cy, rotation: Math.PI / 2,
  style: {text, fontSize: size, fontWeight: 'bold', fontFamily: FONT, fill: '#000',
    align: 'center', verticalAlign: 'middle', textAlign: 'center', textVerticalAlign: 'middle'}});
const panelLabel = (text, top) => ({type: 'text', left: 12, top,
  style: {text, font: 'bold 36px "Liberation Serif", "Times New Roman", serif', fill: '#000'}});

const option = {
  animation: false,
  backgroundColor: '#fff',
  grid: [
    {left: 137, width: 1002, top: 11, height: 362},
    {left: 137, width: 1002, top: 444, height: 363},
    {left: 137, width: 1002, top: 880, height: 366}
  ],
  xAxis: [
    {gridIndex: 0, type: 'value', min: 4, max: 26, axisLine, axisTick: tick(tempTicks),
     axisLabel: Object.assign({customValues: tempTicks, margin: 4}, tickLabel), splitLine: {show: false},
     name: 'Predicted temperature (°C)', nameLocation: 'middle', nameGap: 29, nameTextStyle: nameStyle},
    {gridIndex: 1, type: 'value', min: Date.UTC(1977, 11, 25), max: Date.UTC(2021, 11, 5), axisLine,
     axisTick: tick(yearTickTimes),
     axisLabel: Object.assign({customValues: yearTickTimes, margin: 4,
       formatter: v => String(yearTicks[nearestIdx(yearTickTimes, v)])}, tickLabel), splitLine: {show: false},
     name: 'Date', nameLocation: 'middle', nameGap: 35, nameTextStyle: nameStyle},
    {gridIndex: 2, type: 'value', min: Date.UTC(2018, 11, 14), max: Date.UTC(2020, 0, 18), axisLine,
     axisTick: tick(monthTickTimes),
     axisLabel: Object.assign({customValues: monthTickTimes, margin: 4,
       formatter: v => monthTickLabels[nearestIdx(monthTickTimes, v)]}, tickLabel), splitLine: {show: false},
     name: 'Date', nameLocation: 'middle', nameGap: 31, nameTextStyle: nameStyle}
  ],
  yAxis: [yAx(0), yAx(1), yAx(2)],
  legend: {
    data: seriesNames, orient: 'vertical', left: 858, top: 875, padding: 0, itemWidth: 40, itemHeight: 14, itemGap: 15,
    icon: 'path://M0,6 L40,6 L40,8 L0,8 Z',
    textStyle: {fontSize: 32.5, fontWeight: 'bold', color: '#000', fontFamily: FONT, lineHeight: 36, padding: [0, 0, 0, 17]},
    selectedMode: false
  },
  graphic: [
    panelLabel('A)', 19), panelLabel('B)', 449), panelLabel('C)', 886),
    vTitle('Observed temperature (°C)', 86, 191, 27),
    vTitle('Temperature (°C)', 86, 613, 30),
    vTitle('Temperature (°C)', 86, 1047, 30),
    {type: 'text', left: 188, top: 30, style: {text: equationText, fontSize: 34, fontFamily: FONT, fill: '#000',
      rich: {i: {fontStyle: 'italic', fontSize: 34, fontFamily: FONT}, s: {fontSize: 22, fontFamily: FONT, verticalAlign: 'top'}}}}
  ],
  series: [
    {type: 'scatter', xAxisIndex: 0, yAxisIndex: 0, data: scatterA, symbolSize: 5.6,
     itemStyle: {color: BLUE, opacity: 1}, silent: true, z: 2},
    {type: 'line', xAxisIndex: 0, yAxisIndex: 0, data: identityLine, symbol: 'none', silent: true, z: 3,
     lineStyle: {type: [4, 3], color: '#555', width: 0.9}},
    {name: seriesNames[0], type: 'line', xAxisIndex: 1, yAxisIndex: 1, data: ceqBData, symbol: 'none', showSymbol: false,
     connectNulls: false, lineStyle: {color: ORANGE, width: 1.9}, itemStyle: {color: ORANGE}, markLine: thresholdMark},
    {name: seriesNames[1], type: 'line', xAxisIndex: 1, yAxisIndex: 1, data: obsBData, symbol: 'none', showSymbol: false,
     connectNulls: false, lineStyle: {color: BLUE, width: 1.9}, itemStyle: {color: BLUE}},
    {name: seriesNames[0], type: 'line', xAxisIndex: 2, yAxisIndex: 2, data: ceqCData, symbol: 'none', showSymbol: false,
     lineStyle: {color: ORANGE, width: 1.6}, itemStyle: {color: ORANGE}, markLine: thresholdMark},
    {name: seriesNames[1], type: 'line', xAxisIndex: 2, yAxisIndex: 2, data: obsCData, symbol: 'none', showSymbol: false,
     lineStyle: {color: BLUE, width: 1.6}, itemStyle: {color: BLUE}},
    {type: 'scatter', xAxisIndex: 2, yAxisIndex: 2, data: obsIsoCData, symbolSize: 3, itemStyle: {color: BLUE}, silent: true}
  ]
};
const chart = echarts.init(document.getElementById('chart'), null, {renderer: 'canvas'});
chart.setOption(option);
</script></body></html>
